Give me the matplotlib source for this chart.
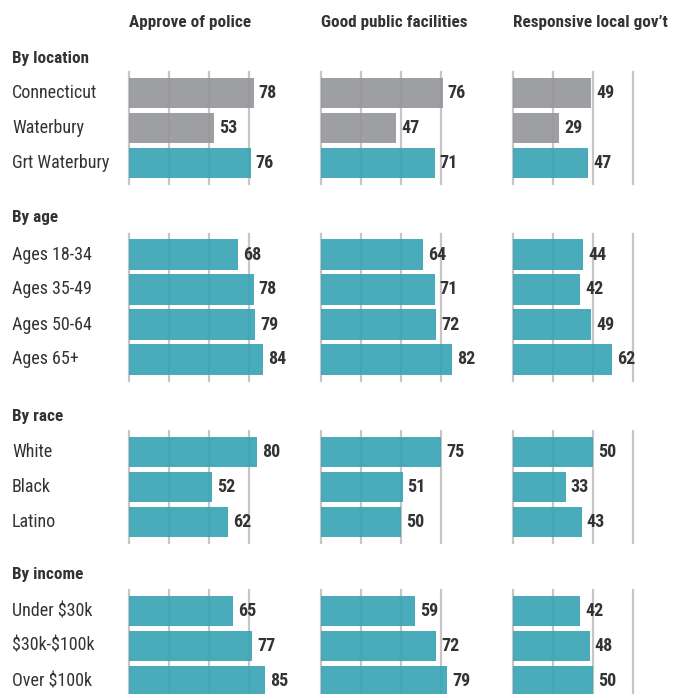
import matplotlib
matplotlib.use("Agg")
import matplotlib.pyplot as plt
from matplotlib import font_manager
from matplotlib.transforms import blended_transform_factory

# === data ===
columns = ["Approve of police", "Good public facilities", "Responsive local gov’t"]
groups = ["By location", "By age", "By race", "By income"]
rows = [
    ["Connecticut", "Waterbury", "Grt Waterbury"],
    ["Ages 18-34", "Ages 35-49", "Ages 50-64", "Ages 65+"],
    ["White", "Black", "Latino"],
    ["Under $30k", "$30k-$100k", "Over $100k"],
]
police = [[78, 53, 76], [68, 78, 79, 84], [80, 52, 62], [65, 77, 85]]
facilities = [[76, 47, 71], [64, 71, 72, 82], [75, 51, 50], [59, 72, 79]]
gov = [[49, 29, 47], [44, 42, 49, 62], [50, 33, 43], [42, 48, 50]]
gray_rows = ["Connecticut", "Waterbury"]
grid_ticks = [0, 25, 50, 75]

# === font: prefer a narrow family ===
avail = {f.name for f in font_manager.fontManager.ttflist}
stretch = "normal"
for name in ["Roboto Condensed", "Liberation Sans Narrow", "Arial Narrow"]:
    if name in avail:
        font = name
        break
else:
    font = "DejaVu Sans"
    stretch = "condensed"
plt.rcParams["font.family"] = [font, "DejaVu Sans"]
plt.rcParams["font.stretch"] = stretch
plt.rcParams["text.parse_math"] = False  # dollar signs in labels

TEAL = "#3aa4b5"
GRAY = "#96979b"
TXT = "#333333"

# === layout (pixels) ===
W, H = 682, 694
panel_left = [129, 321, 513]
panel_w = 160
first_center = [93, 254.5, 452, 611]
heading_y = [58, 217, 416, 575]
pitch = 35
pad = 21

fig = plt.figure(figsize=(W / 100, H / 100), dpi=100)

for p, title in enumerate(columns):
    fig.text(panel_left[p] / W, 1 - 23 / H, title, fontsize=12.3, fontweight="bold",
             color=TXT, ha="left", va="center")

series = [police, facilities, gov]
for g, heading in enumerate(groups):
    n = len(rows[g])
    top = first_center[g] - pad
    h = (n - 1) * pitch + 2 * pad
    fig.text(12 / W, 1 - heading_y[g] / H, heading, fontsize=12.3, fontweight="bold",
             color=TXT, ha="left", va="center")
    for p in range(3):
        ax = fig.add_axes([panel_left[p] / W, 1 - (top + h) / H, panel_w / W, h / H])
        ax.set_xlim(0, 100)
        ax.set_ylim(n - 1 + pad / pitch, -pad / pitch)
        vals = series[p][g]
        colors = [GRAY if r in gray_rows else TEAL for r in rows[g]]
        ax.barh(range(n), vals, height=0.87, color=colors, alpha=0.92, zorder=2)
        ax.set_xticks(grid_ticks)
        ax.set_axisbelow(True)
        ax.grid(axis="x", color="#c6c6c6", linewidth=1.6)
        ax.grid(axis="y", visible=False)
        for line in ax.get_xgridlines():
            line.set_clip_on(False)
        ax.tick_params(length=0, labelbottom=False, labelleft=False)
        for s in ax.spines.values():
            s.set_visible(False)
        ax.patch.set_alpha(0)
        for i, v in enumerate(vals):
            ax.annotate(str(v), (v, i), xytext=(3.6, 0), textcoords="offset points",
                        ha="left", va="center", fontsize=13, fontweight="bold", color=TXT)
        if p == 0:
            tr = blended_transform_factory(fig.transFigure, ax.transData)
            for i, r in enumerate(rows[g]):
                ax.text(12 / W, i, r, transform=tr, ha="left", va="center",
                        fontsize=13, color=TXT)

fig.savefig("out.png", dpi=100)
